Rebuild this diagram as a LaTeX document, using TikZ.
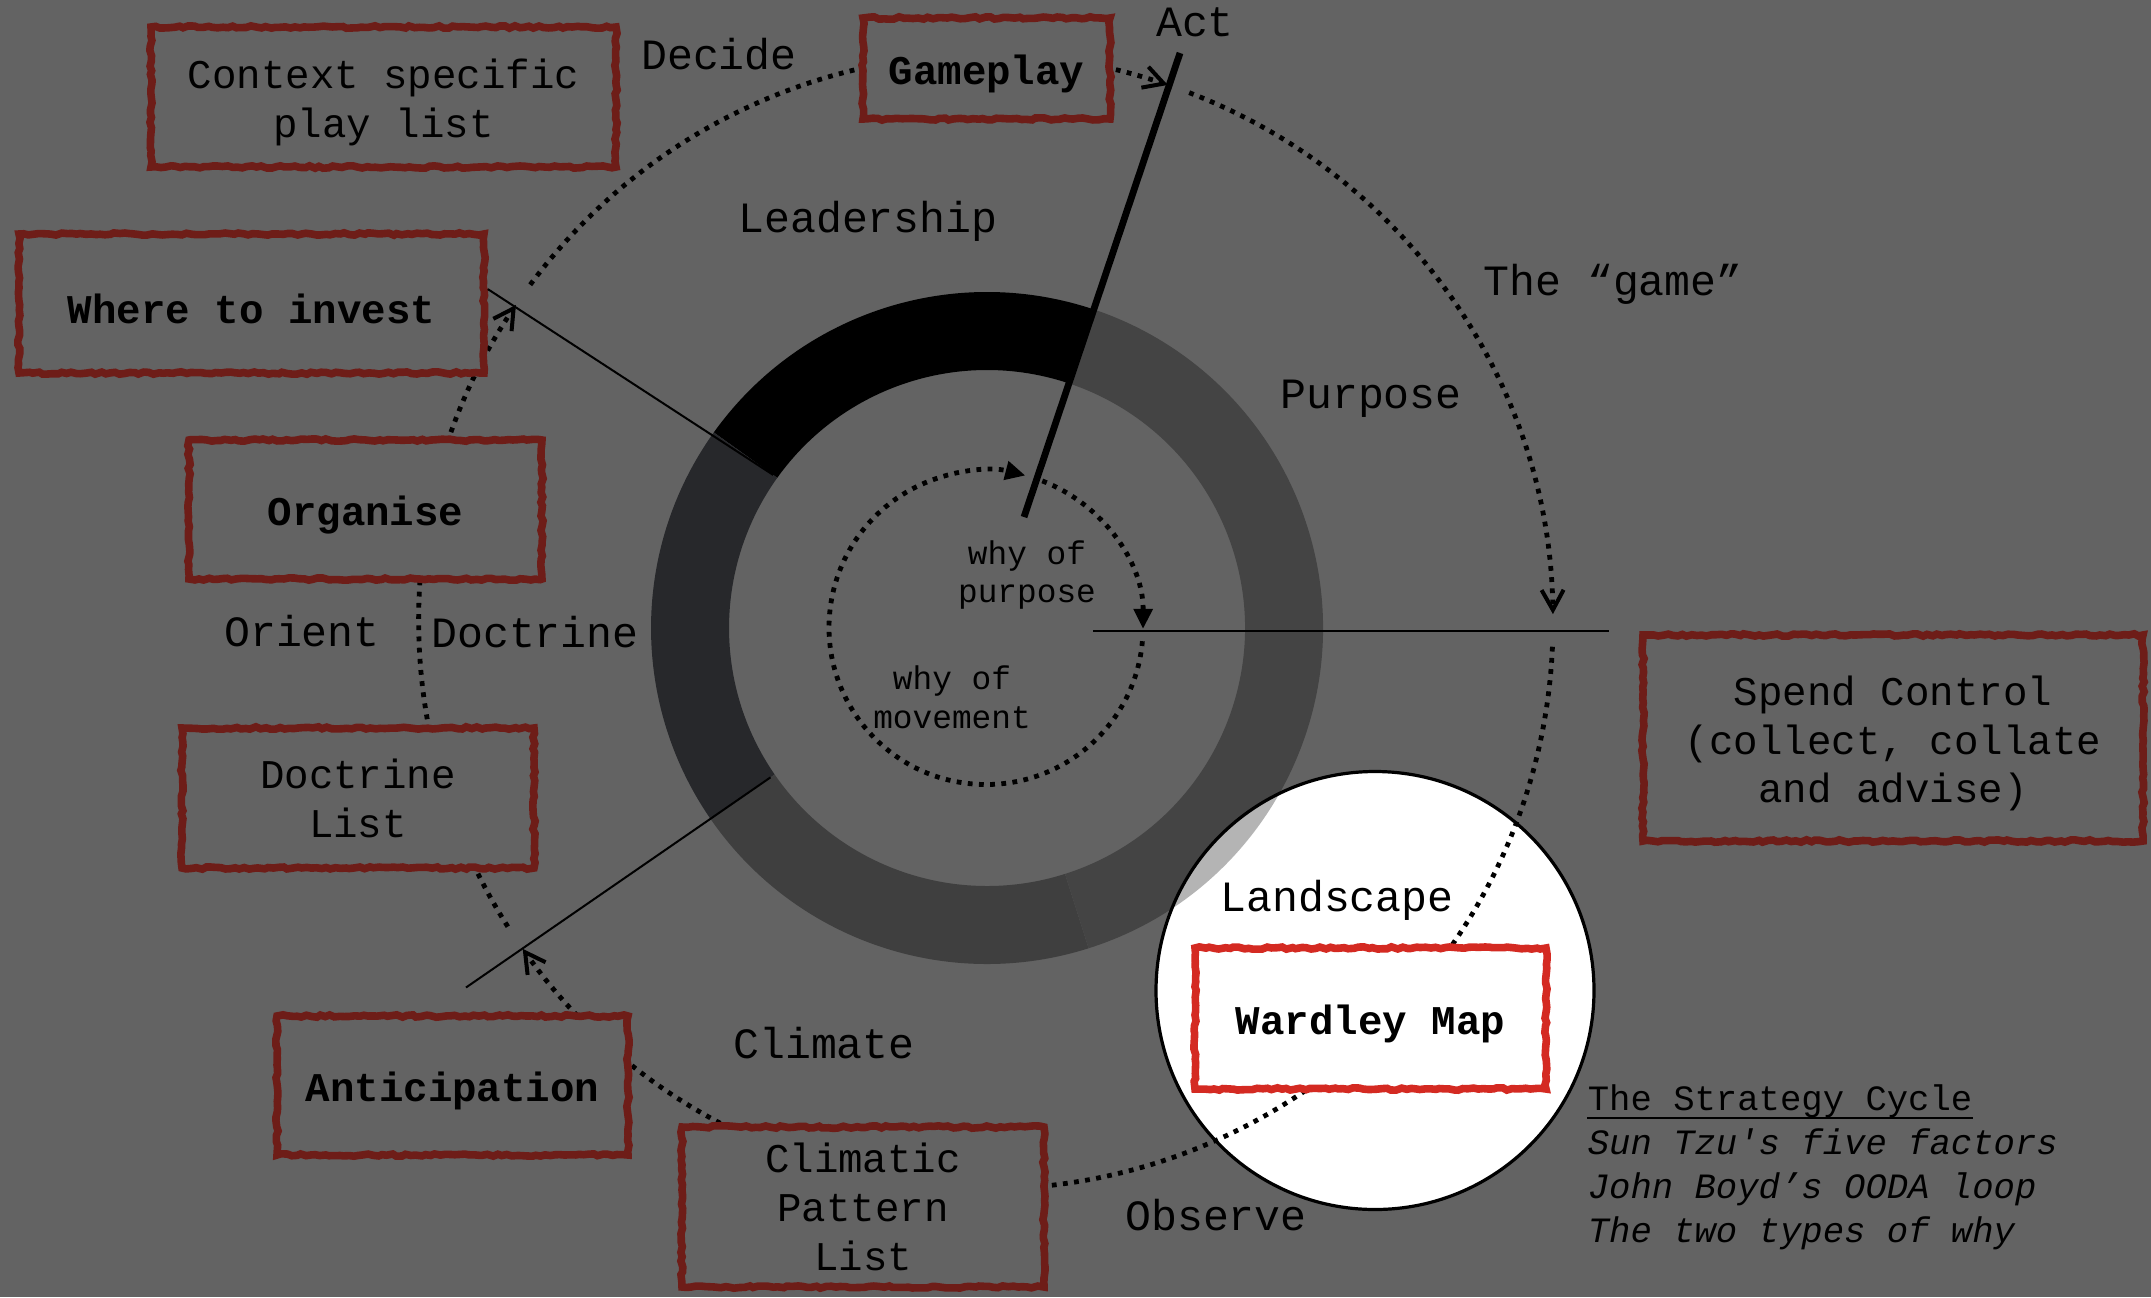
\documentclass[tikz,border=0pt]{standalone}
\usepackage{fontspec}
\setmonofont{Liberation Mono}
\usetikzlibrary{arrows.meta,decorations.pathmorphing}

\definecolor{bg}{HTML}{636363}
\definecolor{boxred}{HTML}{6E1D18}
\definecolor{litred}{HTML}{D42A22}
\definecolor{segleft}{HTML}{27282B}
\definecolor{segbottom}{HTML}{3F3F3F}
\definecolor{segright}{HTML}{444444}
\definecolor{seglight}{HTML}{B4B4B4}

% one coloured piece of the ring, between screen angles #1 < #2
\newcommand\ringpart[3]{%
  \fill[#3] ([shift={(-#1:336)}]rc) arc[start angle=-#1, end angle=-#2, radius=336]
    -- ([shift={(-#2:258)}]rc) arc[start angle=-#2, end angle=-#1, radius=258] -- cycle;}
% extra room above the first line, so box texts sit a little lower
\newcommand\padtop[1]{\raisebox{0pt}[\dimexpr\height+2.8pt\relax]{#1}}

\tikzset{
  box/.style={draw=boxred, line width=1.9pt, fill=bg, inner sep=0pt, align=center,
    text=black, decorate, decoration={random steps, segment length=1.2pt, amplitude=0.3pt},
    font=\ttfamily\fontsize{10.2}{12.2}\selectfont},
  heavy/.style={font=\ttfamily\bfseries\fontsize{10.2}{12.2}\selectfont},
  lbl/.style={anchor=base, inner sep=0pt, font=\ttfamily\fontsize{10.8}{13}\selectfont},
  whytext/.style={align=center, inner sep=0pt, font=\ttfamily\fontsize{8.2}{9.7}\selectfont},
  legend/.style={anchor=base west, inner sep=0pt, font=\ttfamily\fontsize{8.9}{10.8}\selectfont},
  legendit/.style={legend, font=\ttfamily\itshape\fontsize{8.9}{10.8}\selectfont},
  dots/.style={line width=1.2pt, dash pattern=on 1.2pt off 1.6pt},
  barb/.style={-{Straight Barb[length=5pt,width=5.5pt,line width=1pt]}},
  tri/.style={-{Triangle[length=5pt,width=4.6pt]}},
  hair/.style={line width=0.5pt},
}

\begin{document}
\begin{tikzpicture}[x=0.25pt, y=-0.25pt]
\useasboundingbox (0,0) rectangle (2151,1297);
\fill[bg] (0,0) rectangle (2151,1297);
\pgfmathsetseed{7}

\coordinate (rc) at (987,628);   % ring centre
\coordinate (oc) at (986,622);   % outer cycle centre
\coordinate (ic) at (986,627.5); % inner cycle centre
\coordinate (spot) at (1375,990.5);

% the ring
\ringpart{71.5}{144.4}{black}
\ringpart{144.4}{214.6}{segleft}
\ringpart{214.6}{287.6}{segbottom}
\ringpart{287.6}{431.5}{segright}

% inner cycle: why of purpose / why of movement
\draw[dots, tri] ([shift={(5:157)}]ic) arc[start angle=5, end angle=284.5, radius=157];
\draw[dots, tri] ([shift={(-69:157)}]ic) arc[start angle=-69, end angle=0.5, radius=157];

% outer cycle
\draw[dots, barb] ([shift={(-69:567)}]oc) arc[start angle=-69, end angle=-0.8, radius=567];
\draw[dots, barb] ([shift={(2.5:567)}]oc) arc[start angle=2.5, end angle=144.8, radius=567];
\draw[dots, barb] ([shift={(-212.5:567)}]oc) arc[start angle=-212.5, end angle=-146, radius=567];
\draw[dots, barb] ([shift={(-143.5:567)}]oc) arc[start angle=-143.5, end angle=-71.3, radius=567];

% boxes
\node[box, minimum width=116.25pt, minimum height=35pt] (ctx) at (383.5,97) {\padtop{Context specific}\\play list};
\node[box, heavy, minimum width=61.75pt, minimum height=25.25pt] (gameplay) at (986.5,68.5) {\padtop{Gameplay}};
\node[box, heavy, minimum width=116.25pt, minimum height=34.75pt] (invest) at (251.5,303.5) {\padtop{Where to invest}};
\node[box, heavy, minimum width=88.25pt, minimum height=34.75pt] (organise) at (365.5,509.5) {\padtop{Organise}};
\node[box, minimum width=88pt, minimum height=35pt] (doctrinelist) at (358,798) {Doctrine\\List};
\node[box, heavy, minimum width=87.75pt, minimum height=34.75pt] (anticipation) at (452.5,1085.5) {\padtop{Anticipation}};
\node[box, minimum width=90.5pt, minimum height=40pt] (climatic) at (863,1207) {Climatic\\Pattern\\List};
\node[box, minimum width=125pt, minimum height=51.5pt] (spend) at (1893,738) {\padtop{Spend Control}\\(collect, collate\\and advise)};

% cutting lines
\coordinate (investCut) at ([shift={(-144.4:263)}]rc);
\coordinate (anticCut) at ([shift={(-214.6:263)}]rc);
\coordinate (anticTail) at (466,987.5);
\coordinate (hStart) at (1093,631);
\coordinate (hEnd) at (1609,631);
\coordinate (actTop) at (1180,53);
\coordinate (actFoot) at (1024,517);
\draw[hair] ([yshift=3.6pt]invest.east) -- (investCut);
\draw[hair] (anticTail) -- (anticCut);
\draw[hair] (hStart) -- (hEnd);
\draw[line width=1.7pt] (actTop) -- (actFoot);

% labels
\node[lbl] (decide) at (719,69) {Decide};
\node[lbl] (act) at (1195,36) {Act};
\node[lbl] (leadership) at (868,232) {Leadership};
\node[lbl] (game) at (1613,295) {The “game”};
\node[lbl] (purpose) at (1371,408) {Purpose};
\node[lbl] (orient) at (302,646) {Orient};
\node[lbl] (doctrine) at (535,647) {Doctrine};
\node[lbl] (climate) at (824,1058) {Climate};
\node[lbl] (observe) at (1216,1230) {Observe};
\node[whytext] (whypurpose) at (1027,575) {why of\\purpose};
\node[whytext] (whymovement) at (952,697) {why of\\movement};

% legend
\node[legend] (leg1) at (1587,1110) {The Strategy Cycle};
\draw[line width=0.6pt] ([yshift=-2pt]leg1.base west) -- ([yshift=-2pt]leg1.base east);
\node[legendit] (leg2) at (1587,1154) {Sun Tzu's five factors};
\node[legendit] (leg3) at (1587,1198) {John Boyd’s OODA loop};
\node[legendit] (leg4) at (1587,1242) {The two types of why};

% highlighted landscape
\begin{scope}
  \clip (spot) circle[radius=219];
  \fill[white] (spot) circle[radius=219];
  \ringpart{287.6}{431.5}{seglight}
  \draw[dots] ([shift={(2.5:567)}]oc) arc[start angle=2.5, end angle=144.8, radius=567];
\end{scope}
\node[box, heavy, draw=litred, fill=white, minimum width=87.75pt, minimum height=35.25pt] (wardley) at (1370.5,1018.5) {\padtop{Wardley Map}};
\node[lbl] (landscape) at (1337,911) {Landscape};
\draw[line width=0.8pt] (spot) circle[radius=219];
\end{tikzpicture}
\end{document}
